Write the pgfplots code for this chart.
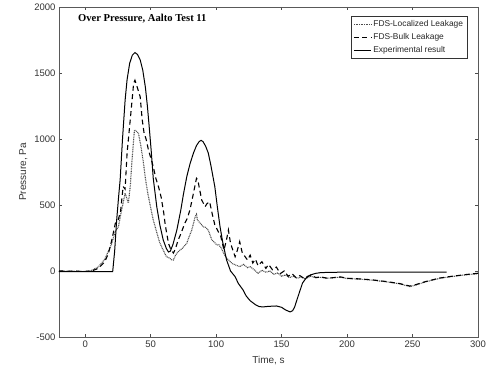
\documentclass[border=0pt]{standalone}
\usepackage{fontspec}
\setmainfont{Liberation Sans}
\newfontfamily\titlefont{Liberation Serif}
\usepackage{pgfplots}
\pgfplotsset{compat=1.18}
\usetikzlibrary{calc}
\begin{document}
\begin{tikzpicture}
\begin{axis}[name=ax,
  scale only axis, width=419pt, height=330pt,
  xmin=-20, xmax=300, ymin=-500, ymax=2000,
  xtick={0,50,...,300}, ytick={-500,0,...,2000},
  tick align=inside, major tick length=3pt,
  tick style={black!70, line width=0.6pt},
  axis line style={black!65, line width=0.9pt},
  tick label style={font=\fontsize{9.5}{10}\selectfont, text=black!80},
  /pgf/number format/assume math mode=true,
  /pgf/number format/1000 sep={},
  xlabel={Time, s}, ylabel={Pressure, Pa},
  label style={font=\fontsize{10}{11}\selectfont, text=black!80},
  xlabel style={yshift=-2pt},
  ylabel style={yshift=0pt},
  legend style={at={(rel axis cs:0.976,0.973)}, anchor=north east, font=\fontsize{8.4}{9}\selectfont,
    draw=black!80, line width=0.8pt, inner sep=2.5pt, row sep=1.2pt, cells={anchor=west, text=black!85}},
  legend image post style={line width=0.9pt},
  legend cell align=left,
]
\addplot[black!70, line width=1.1pt, dash pattern=on 0.9pt off 0.8pt] coordinates {
(-20,0) (0,-3) (5,5) (10,30) (15,90) (20,200) (23,300) (25.4,336) (27,420) (30.5,590) (33,515) (34.5,650) (35.6,818) (37.6,1068) (39,1060) (40.7,1043) (42.5,950) (44.5,818) (46,700) (47.8,590) (50,480) (52,386) (55,280) (57,212) (60,150) (62,108) (64,100) (66,85) (67.4,83) (69,120) (71,146) (74,170) (77.6,210) (79,250) (81.4,310) (84,411) (85,430) (85.7,386) (88,361) (90,336) (92,330) (94,310) (96.7,235) (98.5,220) (100.5,197) (102,200) (104,172) (106,130) (108,96) (110,80) (112,58) (115,45) (118,33) (121,50) (124,25) (126,33) (129,10) (132,-17) (135,5) (138,-10) (141,0) (144,-25) (147,-15) (150,-40) (153,-30) (156,-50) (159,-40) (162,-55) (165,-45) (168,-60) (172,-40) (176,-50) (180,-48) (185,-55) (190,-50) (195,-47) (200,-57) (210,-62) (220,-70) (230,-82) (240,-97) (248,-118) (252,-108) (260,-82) (271,-55) (280,-42) (290,-30) (300,-20)
};
\addlegendentry{FDS-Localized Leakage}
\addplot[black, line width=1.1pt, dash pattern=on 5pt off 3.5pt] coordinates {
(-20,0) (0,-3) (5,0) (10,20) (15,70) (17.8,135) (20,220) (23,360) (25,380) (27,450) (29,640) (30.5,620) (32,894) (34.4,1144) (37,1422) (38,1445) (39.5,1400) (42,1320) (43.5,1150) (45,1043) (46.5,1000) (48.3,917) (50,860) (52,790) (54,700) (56,639) (58,560) (60,439) (61,360) (62,300) (63.6,210) (65.5,160) (67.4,136) (69,170) (71,235) (73,280) (76,360) (78,400) (80,462) (82.7,590) (85,702) (86,690) (87,639) (89,538) (91.6,487) (93,510) (95,525) (97.5,411) (99,350) (101,310) (103.6,260) (106,159) (108,240) (109.4,310) (111,210) (114.5,108) (116,150) (118,222) (120,136) (122,110) (124,83) (126,120) (128,60) (130,90) (132,40) (135,70) (138,20) (140,50) (143,10) (146,30) (149,-20) (152,0) (155,-40) (158,-20) (161,-50) (164,-35) (167,-55) (170,-40) (173,-30) (176,-50) (180,-45) (185,-55) (190,-50) (195,-45) (200,-55) (210,-60) (220,-68) (230,-80) (240,-95) (248,-114) (252,-105) (260,-80) (271,-53) (280,-40) (290,-28) (300,-17)
};
\addlegendentry{FDS-Bulk Leakage}
\addplot[black, line width=1pt] coordinates {
(-20,-5) (0,-5) (21,-5) (22.5,150) (24,380) (25.5,560) (26.7,690) (28.5,1000) (30.5,1295) (32,1450) (34,1575) (36,1635) (38,1655) (40,1640) (42,1600) (44,1520) (46,1390) (47.5,1250) (49,1080) (50.5,900) (52,700) (54.7,485) (57,350) (59.6,235) (62,170) (63.6,144) (65,150) (67,200) (70,310) (73,460) (75,580) (77.6,715) (80,810) (82.7,894) (85,950) (87,980) (88.5,990) (90,980) (92,945) (94,894) (96,800) (99,639) (101,480) (103,335) (105,220) (108,83) (111,0) (114.5,-43) (117,-95) (120.6,-144) (123,-190) (126,-225) (130,-255) (133,-270) (136,-272) (140,-268) (146,-265) (150,-275) (153,-295) (156.5,-310) (158.5,-300) (160,-272) (162,-210) (164,-150) (166,-91) (169,-50) (172,-30) (176,-18) (180,-12) (200,-8) (276,-8)
};
\addlegendentry{Experimental result}
\node[anchor=west, font=\titlefont\bfseries\fontsize{10.6}{11}\selectfont] at (rel axis cs:0.037,0.964) {Over Pressure, Aalto Test 11};
\end{axis}
\pgfresetboundingbox
\path ($(ax.south west)+(-59pt,-31pt)$) rectangle ($(ax.north east)+(18pt,7pt)$);
\end{tikzpicture}
\end{document}
